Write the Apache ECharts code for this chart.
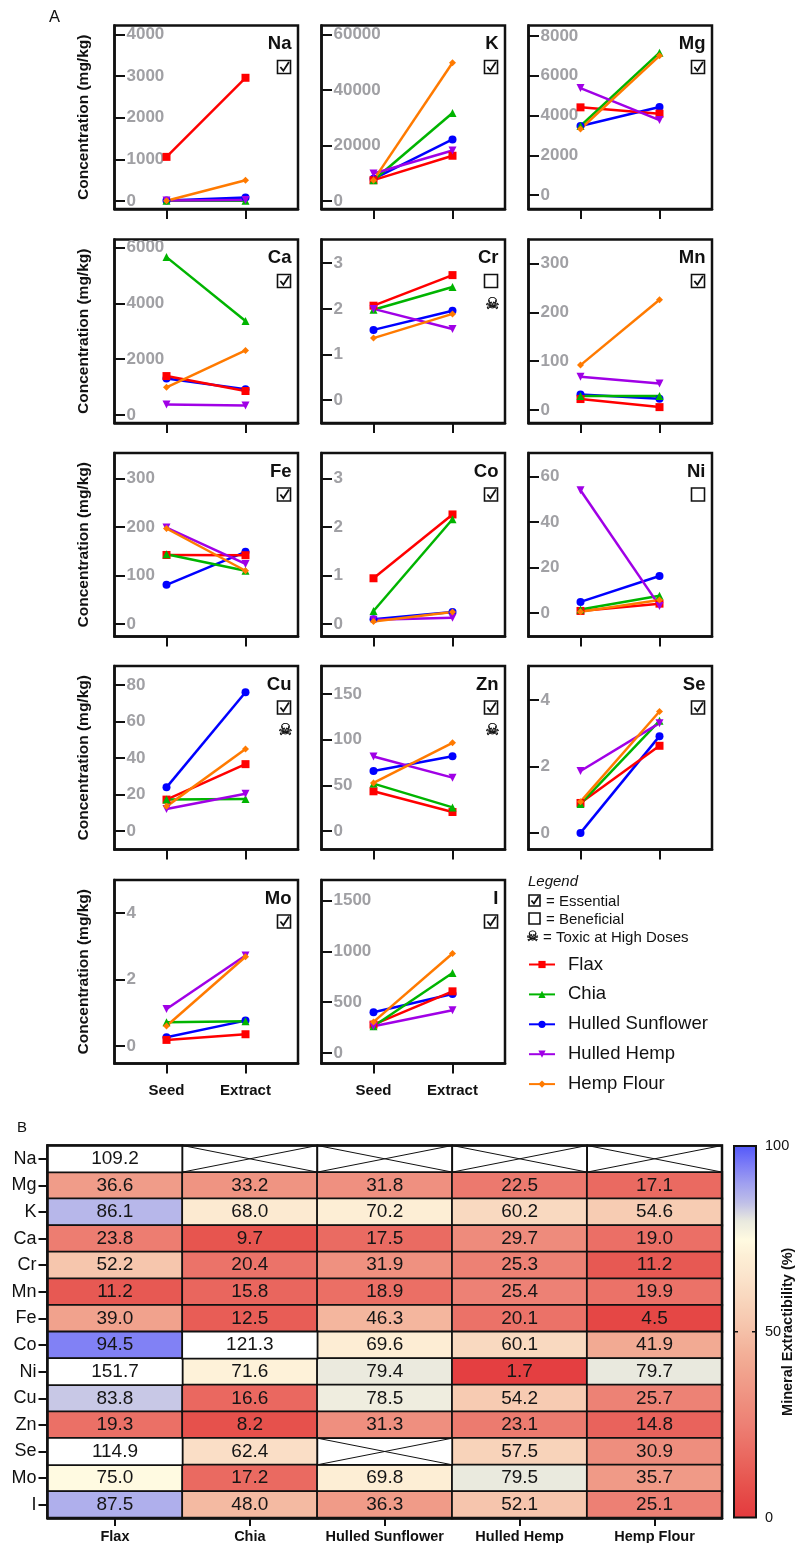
<!DOCTYPE html>
<html>
<head>
<meta charset="utf-8">
<style>html,body{margin:0;padding:0;background:#fff}#c{width:795px;height:1543px}</style>
<script src="https://cdn.jsdelivr.net/npm/echarts@6/dist/echarts.min.js"></script>
</head>
<body>
<div id="c"></div>
<script>
// panel order
const elements = ['Na','K','Mg','Ca','Cr','Mn','Fe','Co','Ni','Cu','Zn','Se','Mo','I'];
const stages = ['Seed','Extract'];
const essential = [1,1,1,1,0,1,1,1,0,1,1,1,1,1];
const toxic     = [0,0,0,0,1,0,0,0,0,1,1,0,0,0];

const flaxSeed     = [1060,7500,4410,1395,2.07,22.5,142.5,0.945,1,17.3,43.6,0.9,0.19,278];
const flaxExtract  = [2960,16300,4090,860,2.74,6,142,2.26,4.2,36.7,21,2.62,0.36,606];
const chiaSeed     = [5,7500,3470,5655,1.98,29,144,0.27,1.6,17.3,52,0.87,0.72,262];
const chiaExtract  = [5,31700,7160,3365,2.48,28.6,110,2.16,7.7,17.6,26,3.37,0.75,786];
const sunSeed      = [10,8000,3470,1310,1.54,32,81,0.10,4.95,24,65.7,0,0.27,400];
const sunExtract   = [85,22150,4430,920,1.96,23,149,0.25,16.3,76,82,2.91,0.77,580];
const hempSeed     = [15,9900,5380,380,2,68,199,0.09,53.9,12.2,81.7,1.86,1.12,262];
const hempExtract  = [25,18200,3770,345,1.56,54.5,124,0.13,3.2,20.5,58.5,3.3,2.73,419];
const flourSeed    = [5,7500,3320,990,1.36,92,197,0.055,0.6,13.6,52.7,0.94,0.61,305];
const flourExtract = [500,49800,7000,2315,1.89,225.6,110,0.25,5.8,45,96.6,3.65,2.69,979];

// y axis extents and tick labels per panel
const yMins = [-192,-2880,-704,-286,-0.5,-26.5,-25.5,-0.255,-10.2,-10,-20,-0.5,-0.52,-105];
const yMaxs = [4216,63200,8528,6286,3.52,349,352.6,3.526,70.2,90.4,180.5,5.02,5.0,1703];
const yTicks = [[0,1000,2000,3000,4000],[0,20000,40000,60000],[0,2000,4000,6000,8000],
  [0,2000,4000,6000],[0,1,2,3],[0,100,200,300],[0,100,200,300],[0,1,2,3],[0,20,40,60],
  [0,20,40,60,80],[0,50,100,150],[0,2,4],[0,2,4],[0,500,1000,1500]];

// heatmap
const heatRows = ['Na','Mg','K','Ca','Cr','Mn','Fe','Co','Ni','Cu','Zn','Se','Mo','I'];
const heatCols = ['Flax','Chia','Hulled Sunflower','Hulled Hemp','Hemp Flour'];
const flaxPct  = [109.2,36.6,86.1,23.8,52.2,11.2,39.0,94.5,151.7,83.8,19.3,114.9,75.0,87.5];
const chiaPct  = [null,33.2,68.0,9.7,20.4,15.8,12.5,121.3,71.6,16.6,8.2,62.4,17.2,48.0];
const sunPct   = [null,31.8,70.2,17.5,31.9,18.9,46.3,69.6,79.4,78.5,31.3,null,69.8,36.3];
const hempPct  = [null,22.5,60.2,29.7,25.3,25.4,20.1,60.1,1.7,54.2,23.1,57.5,79.5,52.1];
const flourPct = [null,17.1,54.6,19.0,11.2,19.9,4.5,41.9,79.7,25.7,14.8,30.9,35.7,25.1];
const heatStops = ['rgb(228,58,62)','rgb(229,72,70)','rgb(231,86,80)','rgb(233,100,92)','rgb(235,114,104)',
 'rgb(237,128,116)','rgb(238,140,124)','rgb(240,152,134)','rgb(241,165,143)','rgb(243,178,154)',
 'rgb(245,192,168)','rgb(247,205,180)','rgb(249,217,192)','rgb(251,228,204)','rgb(253,238,213)',
 'rgb(255,250,225)','rgb(232,232,222)','rgb(190,190,232)','rgb(160,160,240)','rgb(125,125,246)','rgb(85,90,250)'];
const barTickValues = [50];

const FONT = '"Liberation Sans", Arial, sans-serif';
const INK = '#111';
const colLefts = [114.5, 321.5, 528.5];
const rowTops = [25.5, 239.5, 453, 666, 880];
const BOX = 183.5;
const xPad = 52 / 79, xExtent = 183.5 / 79;

// draw order: back to front; legend order comes from legendOrder
const species = [
  {name:'Hulled Sunflower', color:'#0000ff', symbol:'circle', size:8, rotate:0, seed:sunSeed, extract:sunExtract},
  {name:'Flax', color:'#ff0000', symbol:'rect', size:8, rotate:0, seed:flaxSeed, extract:flaxExtract},
  {name:'Chia', color:'#00b400', symbol:'triangle', size:8, rotate:0, seed:chiaSeed, extract:chiaExtract},
  {name:'Hulled Hemp', color:'#a000e6', symbol:'triangle', size:8, rotate:180, seed:hempSeed, extract:hempExtract},
  {name:'Hemp Flour', color:'#ff7a00', symbol:'diamond', size:7, rotate:0, seed:flourSeed, extract:flourExtract}
];
const legendOrder = ['Flax','Chia','Hulled Sunflower','Hulled Hemp','Hemp Flour'];

const grids = [], xAxes = [], yAxes = [], series = [], graphics = [];

function checkbox(x, y, size, checked) {
  graphics.push({type:'rect', silent:true, shape:{x:x, y:y, width:size, height:size},
    style:{fill:'#fff', stroke:INK, lineWidth:1.6}});
  if (checked) graphics.push({type:'polyline', silent:true,
    shape:{points:[[x+size*0.22,y+size*0.5],[x+size*0.45,y+size*0.78],[x+size*0.88,y+size*0.12]]},
    style:{fill:'none', stroke:INK, lineWidth:1.8}});
}
function text(t, x, y, font, opts) {
  graphics.push({type:'text', silent:true, x:x, y:y, rotation:(opts&&opts.rotation)||0,
    style:Object.assign({text:t, font:font, fill:INK, align:'left', verticalAlign:'middle'}, opts&&opts.style)});
}

elements.forEach((el, i) => {
  const col = i % 3, row = Math.floor(i / 3);
  const left = colLefts[col], top = rowTops[row];
  grids.push({left:left, top:top, width:BOX, height:BOX, show:true, borderColor:INK, borderWidth:2.5, backgroundColor:'transparent', outerBoundsMode:'none'});
  const bottomRow = row === 4;
  xAxes.push({gridIndex:i, type:'value', min:-xPad, max:xExtent - xPad, splitLine:{show:false},
    axisLine:{onZero:false, show:true, lineStyle:{color:INK, width:2.5}},
    axisTick:{show:true, customValues:[0,1], length:10, lineStyle:{color:INK, width:2}},
    axisLabel:{show:bottomRow, customValues:[0,1], formatter:v => stages[v], margin:20,
      fontFamily:FONT, fontWeight:'bold', fontSize:15, color:INK}});
  yAxes.push({gridIndex:i, type:'value', min:yMins[i], max:yMaxs[i], splitLine:{show:false},
    name: col === 0 ? 'Concentration (mg/kg)' : '', nameLocation:'middle', nameRotate:90, nameGap:23,
    nameTextStyle:{fontFamily:FONT, fontWeight:'bold', fontSize:15.5, color:INK},
    axisLine:{onZero:false, show:true, lineStyle:{color:INK, width:2.5}},
    axisTick:{show:true, inside:true, customValues:yTicks[i], length:10.5, lineStyle:{color:INK, width:2}},
    axisLabel:{show:true, inside:true, customValues:yTicks[i], margin:12, hideOverlap:false, formatter:v => String(v),
      fontFamily:FONT, fontWeight:'bold', fontSize:17, color:'#a0a0a4'}});
  species.forEach(s => {
    series.push({type:'line', name:s.name, xAxisIndex:i, yAxisIndex:i, animation:false, clip:false,
      symbol:s.symbol, symbolSize:s.size, symbolRotate:s.rotate, showSymbol:true,
      itemStyle:{color:s.color}, lineStyle:{color:s.color, width:2.5},
      data:[[0,s.seed[i]],[1,s.extract[i]]]});
  });
  const right = left + BOX;
  text(el, right - 6.5, top + 18.5, 'bold 18.5px ' + FONT, {style:{align:'right'}});
  checkbox(right - 20.5, top + 35, 13, !!essential[i]);
  if (toxic[i]) text('\u2620', right - 12.5, top + 65, 'bold 16px "DejaVu Sans"', {style:{align:'center', stroke:INK, lineWidth:0.4}});
});

// heatmap
const hIdx = elements.length;
grids.push({left:47.5, top:1145.5, width:674.5, height:372.5, show:true, borderColor:INK, borderWidth:2.5, backgroundColor:'transparent', z:3, outerBoundsMode:'none'});
xAxes.push({gridIndex:hIdx, type:'category', data:heatCols, splitLine:{show:false},
  axisLine:{show:true, lineStyle:{color:INK, width:2.5}},
  axisTick:{show:true, alignWithLabel:true, length:8, lineStyle:{color:INK, width:2}},
  axisLabel:{margin:11, interval:0, fontFamily:FONT, fontWeight:'bold', fontSize:14.5, color:INK}});
yAxes.push({gridIndex:hIdx, type:'category', inverse:true, data:heatRows, splitLine:{show:false},
  axisLine:{show:true, lineStyle:{color:INK, width:2.5}},
  axisTick:{show:true, alignWithLabel:true, length:9, lineStyle:{color:INK, width:2}},
  axisLabel:{margin:11, interval:0, fontFamily:FONT, fontSize:18, color:INK}});
const pctCols = [flaxPct, chiaPct, sunPct, hempPct, flourPct];
const heatData = [], overData = [], crossed = [];
pctCols.forEach((arr, c) => arr.forEach((v, r) => {
  if (v === null) crossed.push([c, r]);
  else if (v > 100) overData.push([c, r, v]);
  else heatData.push([c, r, v]);
}));
const heatLabel = {show:true, formatter:p => p.value[2].toFixed(1), fontFamily:FONT, fontSize:19, color:'#151515'};
const heatSeriesIndex = series.length;
series.push({type:'heatmap', xAxisIndex:hIdx, yAxisIndex:hIdx, animation:false, data:heatData,
  itemStyle:{borderColor:INK, borderWidth:1.8}, label:heatLabel, emphasis:{disabled:true}});
series.push({type:'heatmap', xAxisIndex:hIdx, yAxisIndex:hIdx, animation:false, data:overData,
  itemStyle:{color:'#ffffff', borderColor:INK, borderWidth:1.8}, label:heatLabel, emphasis:{disabled:true}});
series.push({type:'custom', xAxisIndex:hIdx, yAxisIndex:hIdx, animation:false, silent:true, data:crossed, z:2,
  renderItem:(params, api) => {
    const p = api.coord([api.value(0), api.value(1)]);
    const sz = api.size([1, 1]);
    const x0 = p[0]-sz[0]/2, x1 = p[0]+sz[0]/2, y0 = p[1]-sz[1]/2, y1 = p[1]+sz[1]/2;
    return {type:'group', children:[
      {type:'rect', shape:{x:x0, y:y0, width:sz[0], height:sz[1]}, style:{fill:'#fff', stroke:INK, lineWidth:1.8}},
      {type:'line', shape:{x1:x0, y1:y0, x2:x1, y2:y1}, style:{stroke:INK, lineWidth:1}},
      {type:'line', shape:{x1:x0, y1:y1, x2:x1, y2:y0}, style:{stroke:INK, lineWidth:1}}
    ]};
  }});

// colour bar frame + its scale
const cIdx = hIdx + 1;
grids.push({left:734, top:1146, width:22, height:371.5, show:true, borderColor:INK, borderWidth:2, backgroundColor:'transparent', z:5, outerBoundsMode:'none'});
xAxes.push({gridIndex:cIdx, type:'value', show:false, min:0, max:1});
yAxes.push({gridIndex:cIdx, type:'value', position:'right', min:0, max:100, interval:50, splitLine:{show:false}, z:6,
  name:'Mineral Extractibility (%)', nameLocation:'middle', nameRotate:90, nameGap:24, nameMoveOverlap:false,
  nameTextStyle:{fontFamily:FONT, fontWeight:'bold', fontSize:14.5, color:INK},
  axisLine:{show:false}, axisTick:{show:false},
  axisLabel:{margin:9, fontFamily:FONT, fontSize:14.5, color:INK}});
series.push({type:'custom', xAxisIndex:cIdx, yAxisIndex:cIdx, animation:false, silent:true, z:8, data:barTickValues.map(v => [0, v]),
  renderItem:(params, api) => {
    const a = api.coord([0, api.value(1)]), b = api.coord([1, api.value(1)]);
    return {type:'group', children:[
      {type:'line', shape:{x1:a[0], y1:a[1], x2:a[0]+4, y2:a[1]}, style:{stroke:INK, lineWidth:1.5}},
      {type:'line', shape:{x1:b[0]-4, y1:b[1], x2:b[0], y2:b[1]}, style:{stroke:INK, lineWidth:1.5}}
    ]};
  }});

// legend key text and symbols
text('A', 49, 17.5, '16.5px ' + FONT);
text('B', 17, 1128, '15px ' + FONT);
text('Legend', 528, 882, 'italic 15px ' + FONT);
checkbox(529, 895, 11, true);
text('= Essential', 546, 901.5, '15px ' + FONT);
checkbox(529, 913, 11, false);
text('= Beneficial', 546, 919.5, '15px ' + FONT);
text('\u2620', 532.5, 937, 'bold 14px "DejaVu Sans"', {style:{align:'center', stroke:INK, lineWidth:0.4}});
text('= Toxic at High Doses', 543, 937.5, '15px ' + FONT);

const option = {
  animation:false,
  backgroundColor:'#fff',
  textStyle:{fontFamily:FONT},
  grid:grids, xAxis:xAxes, yAxis:yAxes, series:series,
  legend:{show:true, orient:'vertical', left:528, top:955, padding:0, itemWidth:26, itemHeight:9, itemGap:10.9,
    data:legendOrder, selectedMode:false,
    textStyle:{fontFamily:FONT, fontSize:18.5, color:INK, padding:[0,0,0,8]}},
  visualMap:{type:'continuous', min:0, max:100, seriesIndex:heatSeriesIndex, dimension:2, left:734, top:1146.5, z:1,
    itemWidth:22, itemHeight:371, text:null, calculable:false, realtime:false, hoverLink:false, padding:0,
    showLabel:false, inRange:{color:heatStops}},
  graphic:{elements:graphics}
};
const chart = echarts.init(document.getElementById('c'), null, {renderer:'canvas', width:795, height:1543});
chart.setOption(option);
</script>
</body>
</html>
